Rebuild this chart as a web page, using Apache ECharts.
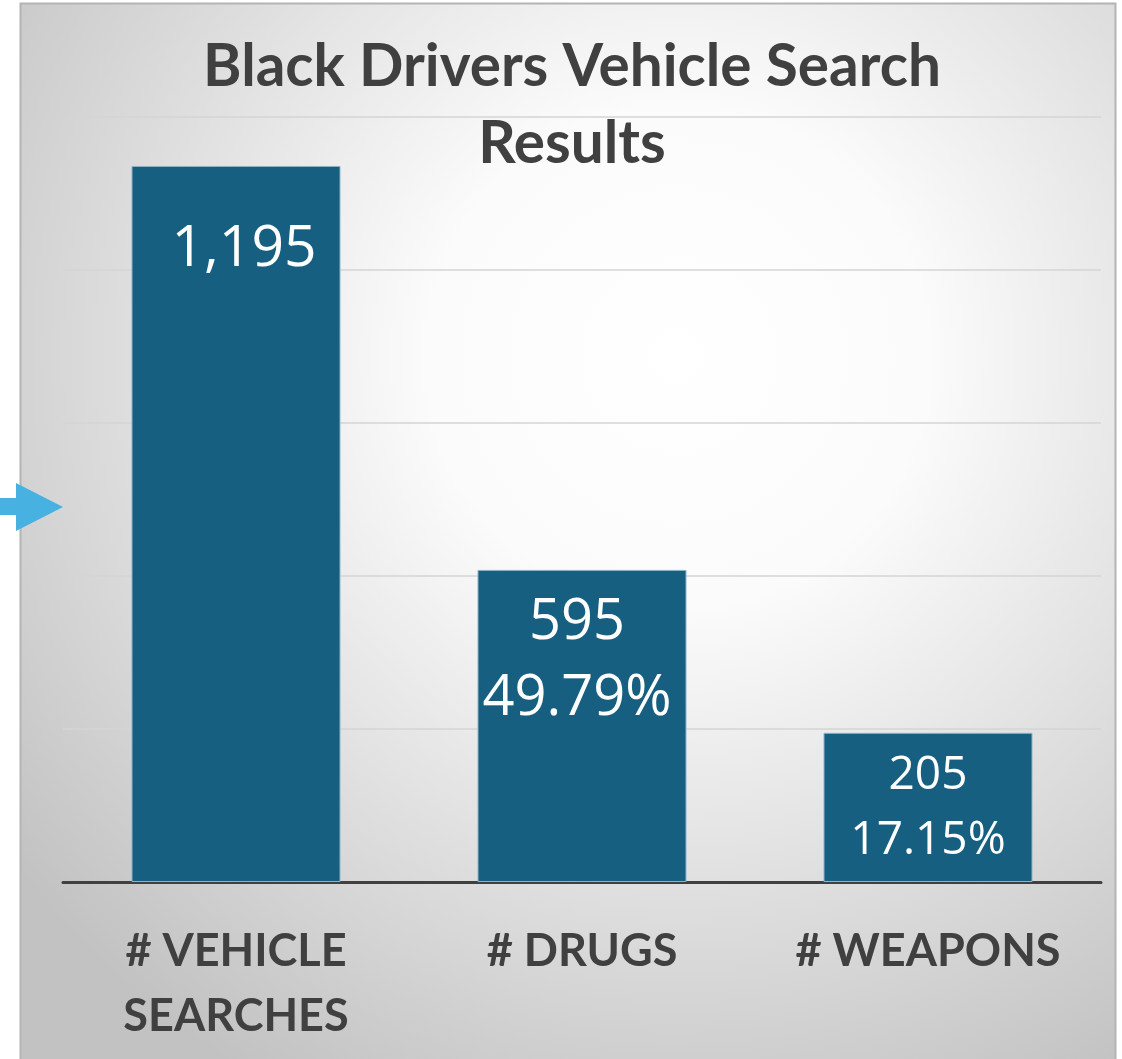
<!DOCTYPE html>
<html>
<head>
<meta charset="utf-8">
<script src="https://cdn.jsdelivr.net/npm/echarts@6/dist/echarts.min.js"></script>
<style>
  html, body { margin: 0; padding: 0; background: #ffffff; }
  #chart { width: 1122px; height: 1059px; }
</style>
</head>
<body>
<div id="chart"></div>
<script>
// ---- data ----
const titleText = 'Black Drivers Vehicle Search\nResults';
const categories = ['# VEHICLE\nSEARCHES', '# DRUGS', '# WEAPONS'];
const counts = [1195, 595, 205];
const shares = ['', '49.79%', '17.15%'];
// bar heights as drawn, in gridline units (the drawn bars are not proportional to the counts)
const barHeights = [4.68, 2.04, 0.975];
const gridTicks = [0, 1, 2, 3, 4, 5];

const fmt = n => n.toLocaleString('en-US');

const labelStyles = [
  { size: 57, lh: 76, dx: 8, dy: 84 },
  { size: 56, lh: 76, dx: -5, dy: 91 },
  { size: 46, lh: 65, dx: 0, dy: 76 }
];

const seriesData = barHeights.map((h, i) => {
  const txt = shares[i] ? fmt(counts[i]) + '\n' + shares[i] : fmt(counts[i]);
  const ls = labelStyles[i];
  return {
    value: h,
    label: {
      show: true,
      formatter: txt,
      position: ['50%', ls.dy],
      offset: [ls.dx, 0],
      align: 'center',
      verticalAlign: 'middle',
      color: '#ffffff',
      fontFamily: 'Open Sans',
      fontSize: ls.size,
      lineHeight: ls.lh
    }
  };
});

const chart = echarts.init(document.getElementById('chart'), null, { renderer: 'canvas' });
chart.setOption({
  backgroundColor: '#ffffff',
  animation: false,
  graphic: [
    {
      type: 'rect', z: -10, silent: true,
      shape: { x: 20.5, y: 3.5, width: 1095, height: 1070 },
      style: {
        fill: {
          type: 'radial', x: 0.6, y: 0.33, r: 0.78,
          colorStops: [
            { offset: 0, color: '#ffffff' },
            { offset: 0.3, color: '#fbfbfb' },
            { offset: 1, color: '#c2c2c2' }
          ]
        },
        stroke: '#b4b4b4', lineWidth: 2
      }
    },
    {
      type: 'polygon', z: 10, silent: true,
      shape: { points: [[0, 498], [16, 498], [16, 483], [63, 507], [16, 531], [16, 515], [0, 515]] },
      style: { fill: '#47b1e2' }
    }
  ],
  title: {
    text: titleText,
    left: 572,
    top: 29,
    padding: 0,
    textAlign: 'center',
    textStyle: {
      fontFamily: 'Lato',
      fontWeight: 'bold',
      fontSize: 58.5,
      lineHeight: 77,
      color: '#404040'
    }
  },
  grid: { left: 63, right: 21, top: 117, bottom: 177, containLabel: false },
  xAxis: {
    type: 'category',
    data: categories,
    axisLine: { show: true, lineStyle: { color: '#404040', width: 3 } },
    axisTick: { show: false },
    axisLabel: {
      margin: 37,
      fontFamily: 'Lato',
      fontWeight: 'bold',
      fontSize: 45,
      lineHeight: 65,
      color: '#404040',
      interval: 0
    }
  },
  yAxis: {
    type: 'value',
    min: gridTicks[0],
    max: gridTicks[gridTicks.length - 1],
    interval: 1,
    axisLine: { show: false },
    axisTick: { show: false },
    axisLabel: { show: false },
    splitLine: { show: true, lineStyle: { color: '#d4d4d4', width: 1.5 } }
  },
  series: [{
    type: 'bar',
    data: seriesData,
    barWidth: 209,
    itemStyle: { color: '#175f81', borderColor: '#8fb3c6', borderWidth: 1 },
    z: 2
  }]
});
</script>
</body>
</html>
